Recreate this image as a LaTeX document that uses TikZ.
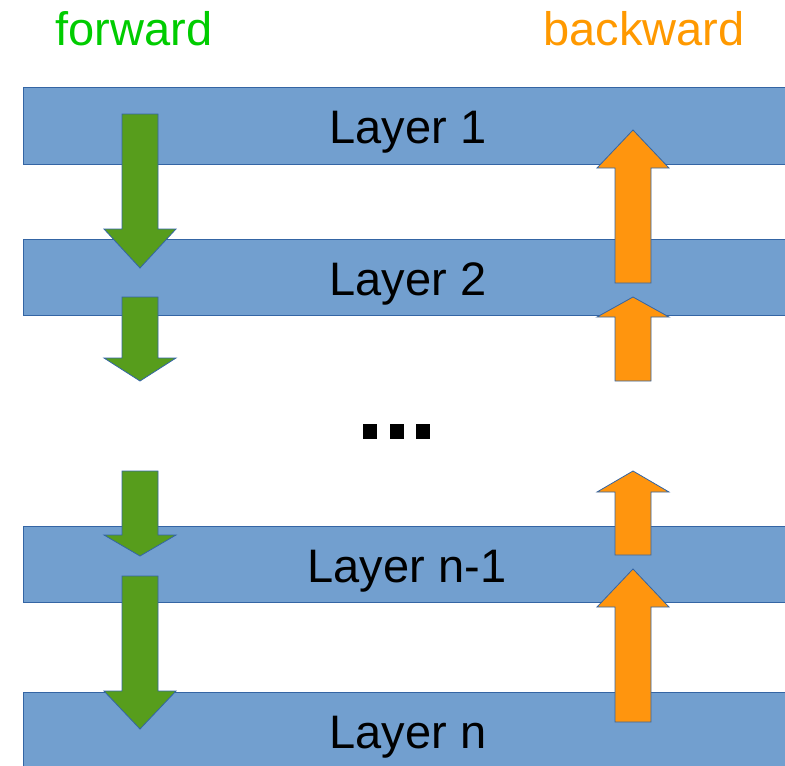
\documentclass[tikz,border=0pt]{standalone}
\usepackage{fontspec}
\setmainfont{Liberation Sans}
\definecolor{layerfill}{HTML}{729FCF}
\definecolor{layerline}{HTML}{3465A4}
\definecolor{fwdgreen}{HTML}{579D1C}
\definecolor{bwdorange}{HTML}{FF950E}
\definecolor{fwdtext}{HTML}{00CC00}
\definecolor{bwdtext}{HTML}{FF9900}
\begin{document}
\begin{tikzpicture}[x=1pt,y=-1pt,
  layer/.style={fill=layerfill,draw=layerline,line width=0.8pt},
  lbl/.style={anchor=base,inner sep=0pt,font=\fontsize{47}{50}\selectfont},
  fwd/.style={fill=fwdgreen,draw=layerline,line width=0.8pt,line join=miter},
  bwd/.style={fill=bwdorange,draw=layerline,line width=0.8pt,line join=miter},
  dot/.style={fill=black}]
\useasboundingbox (0,0) rectangle (785,766);
\begin{scope}
\clip (0,0) rectangle (785,766);
% layers
\draw[layer] (23,87) rectangle (800,164);
\draw[layer] (23,239) rectangle (800,315);
\draw[layer] (23,526) rectangle (800,602);
\draw[layer] (23,692) rectangle (800,800);
\end{scope}
% headings
\node[lbl,text=fwdtext] (fw) at (134,45) {forward};
\node[lbl,text=bwdtext] (bw) at (644,45) {backward};
% layer labels
\node[lbl] (l1) at (408,143) {Layer 1};
\node[lbl] (l2) at (408,295) {Layer 2};
\node[lbl] (ln1) at (407,582) {Layer n-1};
\node[lbl] (ln) at (408,748) {Layer n};
% forward arrows (down)
\draw[fwd] (122,114) -- (158,114) -- (158,229) -- (176,229) -- (140,268) -- (104,229) -- (122,229) -- cycle;
\draw[fwd] (122,297) -- (158,297) -- (158,358) -- (176,358) -- (140,381) -- (104,358) -- (122,358) -- cycle;
\draw[fwd] (122,471) -- (158,471) -- (158,535) -- (176,535) -- (140,556) -- (104,535) -- (122,535) -- cycle;
\draw[fwd] (122,576) -- (158,576) -- (158,691) -- (176,691) -- (140,729) -- (104,691) -- (122,691) -- cycle;
% backward arrows (up)
\draw[bwd] (615,283) -- (651,283) -- (651,168) -- (669,168) -- (633,130) -- (597,168) -- (615,168) -- cycle;
\draw[bwd] (615,381) -- (651,381) -- (651,317) -- (669,317) -- (633,297) -- (597,317) -- (615,317) -- cycle;
\draw[bwd] (615,555) -- (651,555) -- (651,492) -- (669,492) -- (633,471) -- (597,492) -- (615,492) -- cycle;
\draw[bwd] (615,722) -- (651,722) -- (651,607) -- (669,607) -- (633,569) -- (597,607) -- (615,607) -- cycle;
% ellipsis
\fill[dot] (363,424) rectangle (377,439);
\fill[dot] (390,424) rectangle (404,439);
\fill[dot] (416,424) rectangle (430,439);
\end{tikzpicture}
\end{document}
